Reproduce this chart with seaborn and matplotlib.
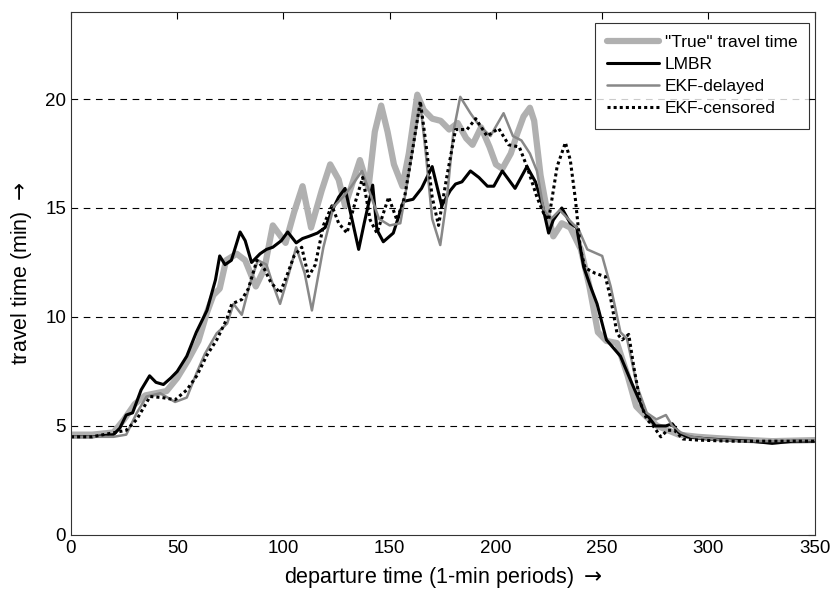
import pandas as pd
import matplotlib
matplotlib.use("Agg")
import matplotlib.pyplot as plt
import seaborn as sns

sns.set_style("white")
plt.rcParams['font.family'] = ['Liberation Sans', 'DejaVu Sans']
plt.rcParams['text.color'] = 'black'
plt.rcParams['axes.labelcolor'] = 'black'

# "True" travel time
true_x = [0, 10, 20, 25, 30, 35, 40, 45, 50, 55,
          60, 64, 67, 70, 73, 78, 82, 87, 91, 95,
          101, 105, 109, 113, 118, 122, 126, 129, 133, 136,
          140, 143, 146, 149, 152, 156, 159, 163, 166, 170,
          174, 178, 182, 186, 189, 193, 197, 200, 203, 207,
          210, 213, 216, 218, 221, 224, 227, 231, 235, 240,
          244, 248, 252, 257, 262, 266, 271, 276, 281, 286,
          295, 310, 330, 350]
true_y = [4.6, 4.6, 4.7, 5.3, 6.0, 6.4, 6.5, 6.6, 7.2, 8.0,
          8.9, 10.2, 11.0, 11.3, 12.6, 12.9, 12.6, 11.4, 12.2, 14.2,
          13.4, 14.8, 16.0, 14.1, 15.8, 17.0, 16.3, 15.1, 16.3, 17.2,
          15.9, 18.5, 19.7, 18.5, 17.0, 16.0, 17.5, 20.2, 19.5, 19.1,
          19.0, 18.6, 18.9, 18.2, 17.9, 18.7, 17.8, 17.0, 16.8, 17.5,
          18.4, 19.2, 19.6, 19.0, 16.5, 14.9, 13.7, 14.3, 14.1, 13.1,
          11.4, 9.3, 8.9, 8.8, 7.3, 5.9, 5.4, 5.0, 4.8, 4.6,
          4.5, 4.4, 4.3, 4.35]

# LMBR
lmbr_x = [0, 10, 20, 23, 26, 29, 33, 37, 40, 43.5,
          47, 50, 54.5, 59, 64, 68, 70, 72.5, 75.5, 79.6,
          82, 85, 89, 92, 95, 99, 102, 106, 109, 112,
          116, 119.6, 123, 126, 129, 132, 135.4, 138, 142, 144,
          147, 151.7, 156.5, 161, 165, 170, 174.5, 178.5, 181, 184,
          188, 192, 196, 199, 203, 206, 209, 214.6, 218.6, 221.7,
          224.8, 227, 231, 235, 238, 241.3, 244.5, 247.6, 252, 258.6,
          264, 269.6, 275, 280, 283, 286, 290, 300, 320, 330,
          340, 350]
lmbr_y = [4.5, 4.5, 4.6, 4.9, 5.5, 5.6, 6.65, 7.3, 7.0, 6.9,
          7.2, 7.5, 8.2, 9.3, 10.3, 11.7, 12.8, 12.4, 12.6, 13.9,
          13.5, 12.5, 12.9, 13.1, 13.2, 13.5, 13.9, 13.4, 13.6, 13.7,
          13.85, 14.1, 14.9, 15.5, 15.9, 14.6, 13.1, 14.3, 16.05, 14.0,
          13.45, 13.85, 15.3, 15.4, 15.9, 16.9, 15.1, 15.8, 16.1, 16.2,
          16.7, 16.4, 16.0, 16.0, 16.7, 16.3, 15.9, 16.9, 16.2, 15.2,
          13.85, 14.45, 15.0, 14.3, 14.1, 12.3, 11.4, 10.6, 8.95, 8.2,
          6.95, 5.7, 5.0, 5.0, 5.1, 4.7, 4.5, 4.4, 4.3, 4.2,
          4.3, 4.3]

# EKF-delayed
delayed_x = [0, 10, 20, 26, 31, 35.6, 42, 49, 54.5, 59,
             63, 68.6, 73.5, 76.5, 80.4, 84.3, 88, 92, 95, 98.4,
             102, 106, 110, 113.4, 118.8, 123.6, 128, 132, 137, 141,
             145, 150, 155, 158, 161, 164.4, 167, 170, 173.8, 177,
             180, 183.2, 188, 192, 197.4, 203.6, 208, 212, 216, 219.3,
             222.5, 226, 230, 234, 239, 243, 250, 254, 258.6, 261.7,
             266.5, 271, 275.5, 280, 283, 287, 292, 300, 315, 330,
             350]
delayed_y = [4.5, 4.5, 4.5, 4.6, 5.6, 6.35, 6.5, 6.1, 6.3, 7.4,
             8.3, 9.25, 9.7, 10.6, 10.1, 11.55, 12.6, 12.4, 11.5, 10.6,
             11.8, 13.2, 12.0, 10.3, 13.2, 15.05, 15.5, 16.0, 16.7, 15.6,
             14.5, 14.2, 14.3, 16.0, 17.8, 19.8, 17.5, 14.5, 13.3, 15.5,
             18.5, 20.1, 19.35, 18.8, 18.3, 19.35, 18.3, 18.1, 17.5, 16.7,
             14.9, 14.5, 14.9, 14.5, 14.0, 13.1, 12.8, 11.4, 9.3, 9.0,
             6.8, 5.6, 5.3, 5.5, 5.0, 4.7, 4.5, 4.4, 4.3, 4.3,
             4.35]

# EKF-censored
censored_x = [0, 10, 20.7, 26, 31, 37.2, 43, 49, 54.5, 59.2,
              64, 68.6, 73.3, 75.7, 80.4, 83.5, 87.5, 91, 94, 98.4,
              102, 105, 108.6, 111.8, 115, 118.8, 122.8, 126, 129.9, 133,
              137.3, 140.8, 144, 149.5, 153.4, 157, 160.5, 164.4, 167, 170,
              173, 177, 181, 186.4, 190.5, 195.8, 201.3, 206, 211, 214.6,
              219.3, 222.5, 224.8, 228.8, 232.7, 235, 237.4, 239.8, 242, 246.8,
              251.5, 253.9, 257, 259.4, 262.5, 264.9, 268, 271, 274, 277.6,
              280.7, 284, 288, 295, 310, 330, 350]
censored_y = [4.5, 4.5, 4.7, 4.8, 5.3, 6.35, 6.3, 6.2, 6.65, 7.3,
              8.25, 8.95, 9.9, 10.6, 10.8, 11.3, 12.6, 12.2, 11.6, 11.1,
              12.0, 12.8, 13.2, 11.85, 12.4, 14.2, 15.1, 14.3, 13.85, 15.0,
              16.4, 14.45, 13.85, 15.5, 14.45, 15.5, 17.5, 19.9, 18.0, 15.5,
              14.2, 16.5, 18.6, 18.6, 19.1, 18.3, 18.65, 17.9, 17.8, 16.9,
              15.5, 14.75, 14.45, 16.9, 18.0, 17.2, 15.4, 13.1, 12.25, 12.0,
              11.85, 10.9, 9.25, 8.95, 9.2, 7.7, 6.05, 5.3, 5.0, 4.5,
              4.8, 4.8, 4.4, 4.35, 4.3, 4.3, 4.3]

series = [
    ('"True" travel time', true_x, true_y, "#b0b0b0", 4.5, "-"),
    ("LMBR", lmbr_x, lmbr_y, "black", 2.2, "-"),
    ("EKF-delayed", delayed_x, delayed_y, "#888888", 1.8, "-"),
    ("EKF-censored", censored_x, censored_y, "black", 2.2, (0, (1, 1))),
]

fig = plt.figure(figsize=(8.3, 5.93), dpi=100)
ax = fig.add_axes([0.0855, 0.098, 0.896, 0.882])

for name, xs, ys, col, lw, ls in series:
    df = pd.DataFrame({"x": xs, "y": ys})
    sns.lineplot(data=df, x="x", y="y", ax=ax, color=col, lw=lw,
                 linestyle=ls, label=name, sort=False, estimator=None)

ax.set_xlim(0, 350)
ax.set_ylim(0, 24)
ax.set_xticks(range(0, 351, 50))
ax.set_yticks(range(0, 21, 5))
for yv in [5, 10, 15, 20]:
    ax.axhline(yv, color="black", lw=0.8, ls=(0, (6, 5)), zorder=0)

ax.tick_params(direction="in", top=True, right=True, length=5, width=0.8,
               labelsize=13.5, colors="black")
for s in ax.spines.values():
    s.set_color("#333333")
    s.set_linewidth(0.8)

ax.set_xlabel("departure time (1-min periods) $\\rightarrow$", fontsize=15.5,
              labelpad=6)
ax.set_ylabel("travel time (min) $\\rightarrow$", fontsize=15.5, labelpad=8)

leg = ax.legend(loc="upper right", bbox_to_anchor=(0.993, 0.979), fontsize=12.5,
                frameon=True, fancybox=False, handlelength=3.0,
                borderaxespad=0, borderpad=0.7, labelspacing=0.4,
                handletextpad=0.3)
leg.get_frame().set_edgecolor("black")
leg.get_frame().set_linewidth(0.8)

plt.savefig("out.png", dpi=100)
